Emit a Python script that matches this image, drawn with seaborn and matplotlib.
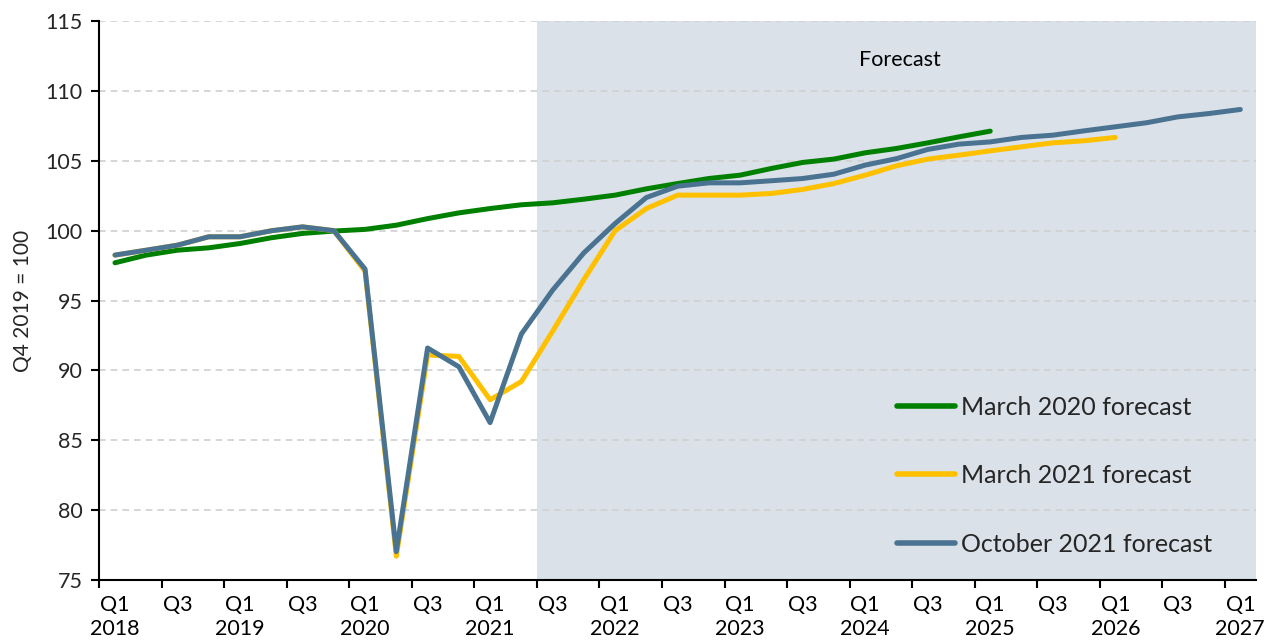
import numpy as np
import pandas as pd
import matplotlib
matplotlib.use("Agg")
import matplotlib.pyplot as plt
import seaborn as sns

# ---- data ----
quarters = [f"Q{q} {y}" for y in range(2018, 2028) for q in (1, 2, 3, 4)][:37]

march_2020 = [97.7, 98.25, 98.6, 98.77, 99.08, 99.49, 99.8, 99.97, 100.09, 100.39,
              100.86, 101.27, 101.58, 101.85, 101.99, 102.25, 102.54, 102.99, 103.37,
              103.73, 103.97, 104.45, 104.88, 105.12, 105.57, 105.88, 106.28, 106.71,
              107.12]
march_2021 = [98.25, 98.6, 98.96, 99.56, 99.56, 99.99, 100.27, 100.0, 97.1, 76.7,
              91.1, 91.0, 87.9, 89.2, 92.8, 96.5, 100.0, 101.58, 102.54, 102.54,
              102.54, 102.66, 102.95, 103.37, 103.97, 104.64, 105.12, 105.4, 105.71,
              106.0, 106.28, 106.43, 106.67]
october_2021 = [98.25, 98.6, 98.96, 99.56, 99.56, 99.99, 100.27, 100.0, 97.25, 77.03,
                91.6, 90.26, 86.26, 92.6, 95.74, 98.41, 100.51, 102.37, 103.18, 103.42,
                103.42, 103.57, 103.73, 104.04, 104.69, 105.15, 105.81, 106.19, 106.35,
                106.67, 106.83, 107.14, 107.43, 107.72, 108.14, 108.38, 108.67]

series_names = ["March 2020 forecast", "March 2021 forecast", "October 2021 forecast"]
series_values = [march_2020, march_2021, october_2021]
colors = ["#008000", "#FFC000", "#4A7391"]

tick_labels = []
for i, q in enumerate(quarters):
    qq, yy = q.split()
    if i % 2 == 0:
        tick_labels.append(f"{qq}\n{yy}" if qq == "Q1" else qq)

frames = []
for name, vals in zip(series_names, series_values):
    frames.append(pd.DataFrame({"idx": np.arange(len(vals)), "value": vals,
                                "series": name}))
df = pd.concat(frames, ignore_index=True)

# ---- plot ----
sns.set_theme(style="white")
plt.rcParams["font.family"] = ["Lato", "DejaVu Sans"]

fig = plt.figure(figsize=(12.69, 6.41), dpi=100)
ax = fig.add_axes([0.0783, 0.0952, 0.9114, 0.872])

forecast_start = 13.5
ax.axvspan(forecast_start, len(quarters) - 0.5, color="#DAE1E8", lw=0, zorder=0)

sns.lineplot(data=df, x="idx", y="value", hue="series", palette=colors,
             hue_order=series_names, linewidth=3.6, ax=ax, zorder=3,
             solid_capstyle="round", solid_joinstyle="round")

ax.set_xlim(-0.5, len(quarters) - 0.5)
ax.set_ylim(75, 115)
ax.set_yticks(np.arange(75, 116, 5))
ax.yaxis.grid(True, color="#D0D0D0", linestyle=(0, (4, 3)), linewidth=1.2, zorder=1)
ax.set_axisbelow(True)

ax.set_xticks(np.arange(0, len(quarters), 2))
ax.set_xticklabels(tick_labels, linespacing=1.25)
ax.set_xticks(np.arange(-0.5, len(quarters) - 1, 2), minor=True)
ax.tick_params(axis="x", which="major", length=0, pad=11, labelsize=15.5, colors="#000000")
ax.tick_params(axis="x", which="minor", length=6, width=1.5, color="#000000", direction="out",
               bottom=True)
ax.tick_params(axis="y", length=6, width=1.5, color="#000000", direction="out", left=True,
               labelsize=15.5, pad=6)

for s in ["top", "right"]:
    ax.spines[s].set_visible(False)
for s in ["left", "bottom"]:
    ax.spines[s].set_color("#000000")
    ax.spines[s].set_linewidth(1.5)

ax.set_xlabel("")
ax.set_ylabel("Q4 2019 = 100", fontsize=15, labelpad=9)

ax.text(0.692, 0.93, "Forecast", transform=ax.transAxes, fontsize=15.5,
        ha="center", va="center", color="#000000")

leg = ax.legend(loc="upper left", bbox_to_anchor=(0.69, 0.33), frameon=False,
                fontsize=18, handlelength=2.3, handletextpad=0.25, labelspacing=1.82,
                borderpad=0, borderaxespad=0, title=None)
for line in leg.get_lines():
    line.set_linewidth(4)

fig.savefig("out.png", dpi=100)
